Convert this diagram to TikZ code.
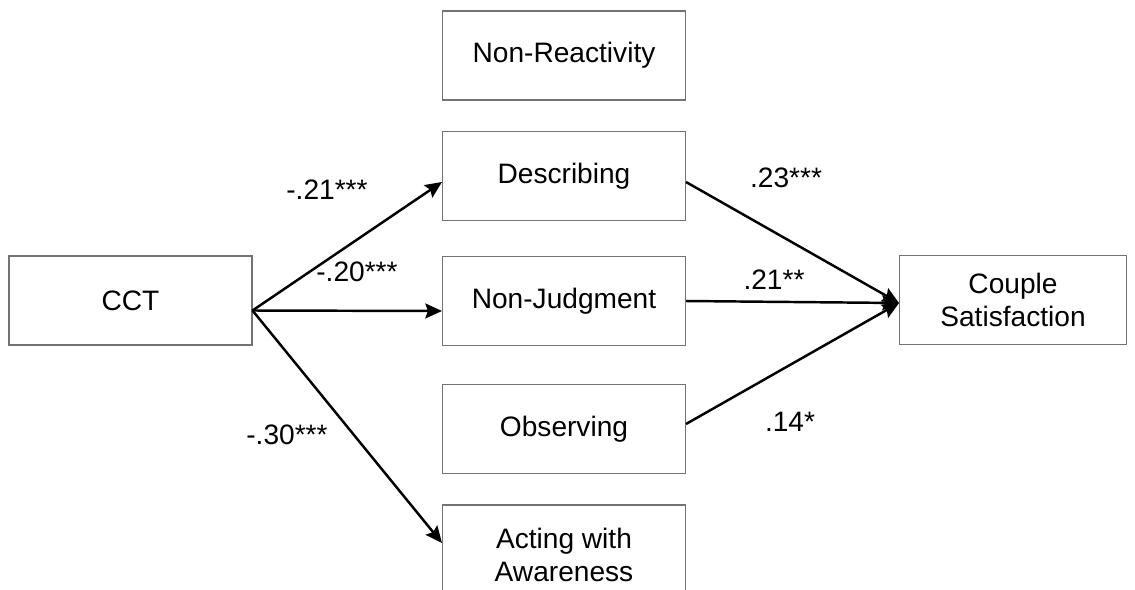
\documentclass[tikz,border=0pt]{standalone}
\usepackage{fontspec}
\setmainfont{Liberation Sans}
\usetikzlibrary{arrows.meta}

\tikzset{
  var/.style={draw=black!55, line width=0.6pt, minimum width=4.86cm, minimum height=1.78cm,
    align=center, font=\fontsize{16}{18.4}\selectfont},
  path/.style={line width=1.4pt, -{Stealth[length=9.5pt, width=8.5pt, inset=1.5pt]}},
  coef/.style={font=\fontsize{16}{18.4}\selectfont}
}

\begin{document}
\begin{tikzpicture}[x=0.02cm, y=-0.02cm]
        % 画布
        \clip (0,0) rectangle (1135,589);

        % 变量方框
        \node[var] (cct) at (130.5,300.5) {CCT};
        \node[var] (nonreact) at (564,55.5) {Non-Reactivity};
        \node[var] (desc) at (564,176) {Describing};
        \node[var] (nonjudg) at (564,301) {Non-Judgment};
        \node[var] (obs) at (564,429) {Observing};
        \node[var, minimum height=2cm] (act) at (564,555) {Acting with\\Awareness};
        \node[var, minimum width=4.54cm] (couple) at (1013,300) {Couple\\Satisfaction};

        % 路径箭头
        \draw[path] ([yshift=-0.2cm]cct.east) -- ([yshift=-0.12cm]desc.west);
        \draw[path] ([yshift=-0.2cm]cct.east) -- ([yshift=-0.2cm]nonjudg.west);
        \draw[path] ([yshift=-0.2cm]cct.east) -- ([yshift=0.24cm]act.west);
        \draw[path] ([yshift=-0.12cm]desc.east) -- ([yshift=-0.06cm]couple.west);
        \draw[path] (nonjudg.east) -- ([yshift=-0.06cm]couple.west);
        \draw[path] ([yshift=0.1cm]obs.east) -- ([yshift=-0.06cm]couple.west);

        % 路径系数
        \node[coef] (c1) at (327,190) {-.21***};
        \node[coef] (c2) at (357,272) {-.20***};
        \node[coef] (c3) at (287,435) {-.30***};
        \node[coef] (c4) at (786,178) {.23***};
        \node[coef] (c5) at (774,280) {.21**};
        \node[coef] (c6) at (790,422) {.14*};
\end{tikzpicture}
\end{document}
